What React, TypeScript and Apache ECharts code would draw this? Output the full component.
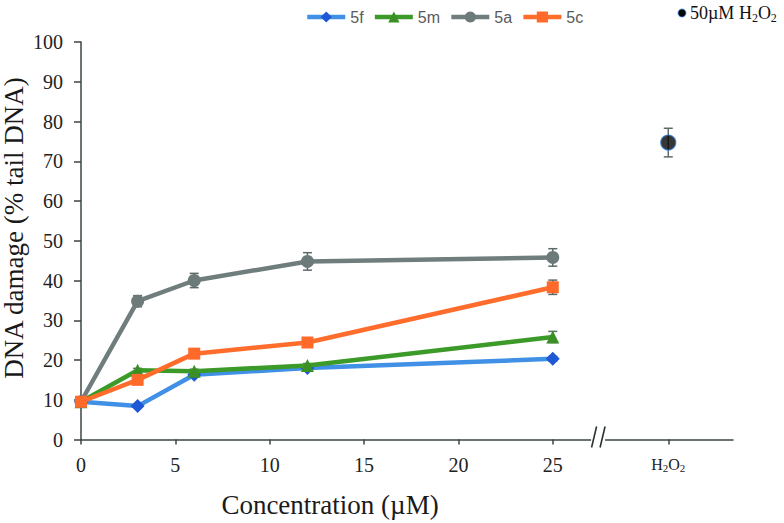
import React, { useEffect, useRef } from "react";
import * as echarts from "echarts";

const concentrations = [0, 3, 6, 12, 25];
const values5f = [9.5, 8.4, 16.3, 18.0, 20.3];
const values5m = [9.5, 17.4, 17.2, 18.6, 25.8];
const values5a = [9.5, 34.8, 40.0, 44.8, 45.8];
const values5c = [9.5, 15.0, 21.6, 24.4, 38.3];
const err5f = [0.3, 0.3, 0.5, 0.4, 0.6];
const err5m = [0.3, 0.5, 0.5, 0.5, 1.4];
const err5a = [0.5, 1.4, 1.8, 2.2, 2.2];
const err5c = [0.3, 0.5, 0.8, 0.7, 1.8];
const h2o2Position = 31.12;
const h2o2Value = 74.7;
const h2o2Error = 3.6;
const xTickLabels = [0, 5, 10, 15, 20, 25];
const xTickValues = [...xTickLabels, h2o2Position];
const breakPosition = 27.4;
const seriesNames = ["5f", "5m", "5a", "5c"];

const SERIF = "Liberation Serif";
const SANS = "Liberation Sans";

export default function App() {
  const ref = useRef<HTMLDivElement>(null);

  useEffect(() => {
    if (!ref.current) return;
    const chart = echarts.init(ref.current, null, { renderer: "svg" });

    const toPairs = (vals: number[]) => concentrations.map((x, i) => [x, vals[i]]);
    const toErr = (vals: number[], errs: number[]) =>
      concentrations.map((x, i) => [x, vals[i], errs[i]]);

    const errColor = "#5d6a6a";
    const errorSeries = (data: number[][], z: number) => ({
      type: "custom",
      z,
      silent: true,
      renderItem: (_p: any, api: any) => {
        const x = api.value(0);
        const y = api.value(1);
        const e = api.value(2);
        const top = api.coord([x, y + e]);
        const bot = api.coord([x, y - e]);
        const half = 4.5;
        const st = { stroke: errColor, lineWidth: 1.5 };
        return {
          type: "group",
          children: [
            { type: "line", shape: { x1: top[0], y1: top[1], x2: bot[0], y2: bot[1] }, style: st },
            { type: "line", shape: { x1: top[0] - half, y1: top[1], x2: top[0] + half, y2: top[1] }, style: st },
            { type: "line", shape: { x1: bot[0] - half, y1: bot[1], x2: bot[0] + half, y2: bot[1] }, style: st },
          ],
        };
      },
      encode: { x: 0, y: 1 },
      data,
    });

    const lineSeries = (
      name: string,
      vals: number[],
      lineColor: string,
      markerColor: string,
      symbol: string,
      symbolSize: number,
      z: number
    ) => ({
      name,
      type: "line",
      z,
      data: toPairs(vals),
      symbol,
      symbolSize,
      showSymbol: true,
      lineStyle: { color: lineColor, width: 4.5 },
      itemStyle: { color: markerColor, borderWidth: 0 },
    });

    const option: any = {
      animation: false,
      backgroundColor: "#ffffff",
      textStyle: { fontFamily: SERIF },
      grid: { left: 81, right: 51, top: 42, bottom: 83.5 },
      legend: {
        data: seriesNames,
        left: 300,
        top: 4,
        itemWidth: 38,
        itemHeight: 14,
        itemGap: 9,
        lineStyle: { width: 4.5 },
        textStyle: { fontSize: 16, color: "#5a5a5a", fontFamily: SANS },
      },
      xAxis: {
        type: "value",
        min: 0,
        max: 34.55,
        splitLine: { show: false },
        axisLine: { show: true, lineStyle: { color: "#3a4444", width: 1.5 } },
        axisTick: {
          show: true,
          length: 5,
          customValues: xTickValues,
          lineStyle: { color: "#3a4444", width: 1.5 },
        },
        axisLabel: {
          customValues: xTickValues,
          margin: 15,
          fontSize: 20,
          fontFamily: SERIF,
          color: "#222",
          formatter: (v: number) =>
            Math.abs(v - h2o2Position) < 0.01 ? "{h|H}{s|2}{h|O}{s|2}" : String(v),
          rich: {
            h: { fontSize: 16, fontFamily: SERIF, color: "#222" },
            s: { fontSize: 11, fontFamily: SERIF, color: "#222", padding: [8, 0, 0, 0] },
          },
        },
      },
      yAxis: {
        type: "value",
        min: 0,
        max: 100,
        interval: 10,
        splitLine: { show: false },
        axisLine: { show: true, lineStyle: { color: "#3a4444", width: 1.5 } },
        axisTick: { show: true, length: 7, lineStyle: { color: "#3a4444", width: 1.5 } },
        axisLabel: { margin: 18, fontSize: 20, fontFamily: SERIF, color: "#222" },
      },
      series: [
        errorSeries(toErr(values5f, err5f), 1),
        errorSeries(toErr(values5m, err5m), 1),
        errorSeries(toErr(values5a, err5a), 1),
        errorSeries(toErr(values5c, err5c), 1),
        lineSeries("5f", values5f, "#4090e6", "#1f58d4", "diamond", 14, 2),
        lineSeries("5m", values5m, "#3c9a28", "#3a9024", "triangle", 13, 3),
        lineSeries("5a", values5a, "#707d7d", "#6c7a7a", "circle", 13, 4),
        lineSeries("5c", values5c, "#ff6c2c", "#ff6a2a", "rect", 12, 5),
        errorSeries([[h2o2Position, h2o2Value, h2o2Error]], 1),
        {
          name: "H2O2",
          type: "scatter",
          z: 6,
          data: [[h2o2Position, h2o2Value]],
          symbol: "circle",
          symbolSize: 15,
          itemStyle: { color: "#050505", borderColor: "#2a78d6", borderWidth: 1.2 },
        },
      ],
    };
    chart.setOption(option);

    const p = chart.convertToPixel({ xAxisIndex: 0, yAxisIndex: 0 }, [breakPosition, 0]) as number[];
    const bx = p[0];
    const by = p[1];
    chart.setOption({
      graphic: [
        { type: "rect", shape: { x: bx - 7, y: by - 3, width: 14, height: 6 }, style: { fill: "#fff" }, z: 100 },
        { type: "line", shape: { x1: bx - 6.5, y1: by + 8, x2: bx - 1.5, y2: by - 13 }, style: { stroke: "#2a3333", lineWidth: 1.6 }, z: 101 },
        { type: "line", shape: { x1: bx + 2, y1: by + 8, x2: bx + 7, y2: by - 13 }, style: { stroke: "#2a3333", lineWidth: 1.6 }, z: 101 },
        {
          type: "text",
          x: 14,
          y: 228,
          rotation: Math.PI / 2,
          style: {
            text: "DNA damage (% tail DNA)",
            fontSize: 27,
            fontFamily: SERIF,
            fill: "#1a1a1a",
            align: "center",
            verticalAlign: "middle",
          },
        },
        {
          type: "text",
          x: 330,
          y: 505,
          style: {
            text: "Concentration (µM)",
            fontSize: 27,
            fontFamily: SERIF,
            fill: "#1a1a1a",
            align: "center",
            verticalAlign: "middle",
          },
        },
        {
          type: "circle",
          shape: { cx: 682, cy: 13, r: 4 },
          style: { fill: "#050505", stroke: "#2a78d6", lineWidth: 0.8 },
        },
        {
          type: "text",
          x: 690,
          y: 13,
          style: {
            text: "{m|50µM H}{s|2}{m|O}{s|2}",
            verticalAlign: "middle",
            rich: {
              m: { fontSize: 18, fontFamily: SERIF, fill: "#111" },
              s: { fontSize: 12, fontFamily: SERIF, fill: "#111", padding: [9, 0, 0, 0] },
            },
          },
        },
      ],
    });

    return () => chart.dispose();
  }, []);

  return (
    <div
      ref={ref}
      style={{ position: "absolute", left: 0, top: 0, width: 784, height: 523, background: "#fff" }}
    />
  );
}
